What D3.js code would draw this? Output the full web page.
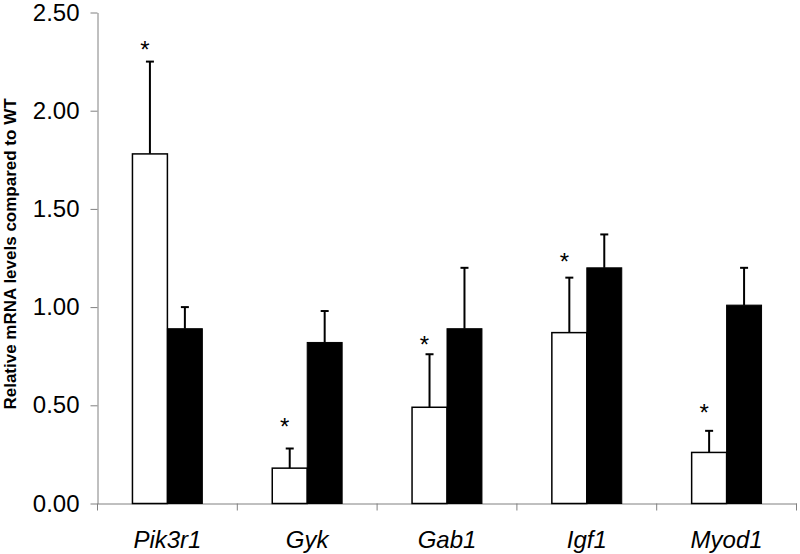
<!DOCTYPE html>
<html><head><meta charset="utf-8">
<script src="https://cdn.jsdelivr.net/npm/d3@7"></script>
<style>body{margin:0;background:#fff}svg{display:block}</style>
</head><body>
<svg id="chart" width="800" height="554"></svg>
<script>
const categories = ["Pik3r1", "Gyk", "Gab1", "Igf1", "Myod1"];
const whiteValues = [1.78, 0.18, 0.49, 0.87, 0.26];
const whiteErrors = [0.47, 0.10, 0.27, 0.28, 0.11];
const blackValues = [0.89, 0.82, 0.89, 1.20, 1.01];
const blackErrors = [0.11, 0.16, 0.31, 0.17, 0.19];
const starLevels = [2.34, 0.42, 0.84, 1.26, 0.49];
const yTicks = [0, 0.5, 1.0, 1.5, 2.0, 2.5];
const yTitle = "Relative mRNA levels compared to WT";

const svg = d3.select("#chart");
const font = "'Liberation Sans', Arial, sans-serif";
const x = d3.scaleBand().domain(categories).range([97.5, 796.5]).padding(0);
const y = d3.scaleLinear().domain([0, 2.5]).range([503.5, 12.5]);
const bw = x.bandwidth() * 0.25;

// y axis
const yAxis = svg.append("g").attr("transform", "translate(97.5,0)")
  .call(d3.axisLeft(y).tickValues(yTicks).tickFormat(d3.format(".2f")).tickSize(7).tickPadding(11).tickSizeOuter(0));
yAxis.select(".domain").attr("stroke", "#808080").attr("stroke-width", 1);
yAxis.selectAll(".tick line").attr("stroke", "#808080");
yAxis.selectAll(".tick text").attr("font-family", font).attr("font-size", 24).attr("fill", "#000");

// x axis
const xAxis = svg.append("g").attr("transform", `translate(0,${y(0)})`)
  .call(d3.axisBottom(x).tickSize(0).tickPadding(44).tickSizeOuter(0));
xAxis.select(".domain").attr("stroke", "#808080");
xAxis.selectAll(".tick text").attr("font-family", font).attr("font-size", 24)
  .attr("font-style", "italic").attr("fill", "#000").attr("dy", 0);
const bounds = categories.map(c => x(c)).concat([x(categories[categories.length - 1]) + x.bandwidth()]);
xAxis.selectAll(".bound").data(bounds).join("line").attr("class", "bound")
  .attr("x1", d => d).attr("x2", d => d).attr("y1", 0).attr("y2", 7)
  .attr("stroke", "#808080").attr("stroke-width", 1);

// data rows
const rows = categories.map((c, i) => ({c, w: whiteValues[i], we: whiteErrors[i], b: blackValues[i], be: blackErrors[i], s: starLevels[i]}));
const g = svg.append("g");

function errBar(xc, v, e) {
  g.append("line").attr("x1", xc).attr("x2", xc).attr("y1", y(v)).attr("y2", y(v + e))
    .attr("stroke", "#000").attr("stroke-width", 2);
  g.append("line").attr("x1", xc - 4).attr("x2", xc + 4).attr("y1", y(v + e)).attr("y2", y(v + e))
    .attr("stroke", "#000").attr("stroke-width", 2);
}

rows.forEach(r => {
  const x0 = x(r.c) + bw;
  errBar(x0 + bw / 2, r.w, r.we);
  errBar(x0 + bw * 1.5, r.b, r.be);
  g.append("rect").attr("x", x0).attr("y", y(r.w)).attr("width", bw).attr("height", y(0) - y(r.w))
    .attr("fill", "#fff").attr("stroke", "#000").attr("stroke-width", 1.5);
  g.append("rect").attr("x", x0 + bw).attr("y", y(r.b)).attr("width", bw).attr("height", y(0) - y(r.b))
    .attr("fill", "#000").attr("stroke", "#000").attr("stroke-width", 1);
  g.append("text").attr("x", x0 + bw / 2 - 5).attr("y", y(r.s) + 14)
    .attr("text-anchor", "middle").attr("font-family", font).attr("font-size", 24).attr("fill", "#000").text("*");
});

// y title
svg.append("text").attr("transform", "translate(15.5,254) rotate(-90)")
  .attr("text-anchor", "middle").attr("font-family", font).attr("font-size", 17).attr("font-weight", "bold")
  .attr("fill", "#000").text(yTitle);
</script>
</body></html>
